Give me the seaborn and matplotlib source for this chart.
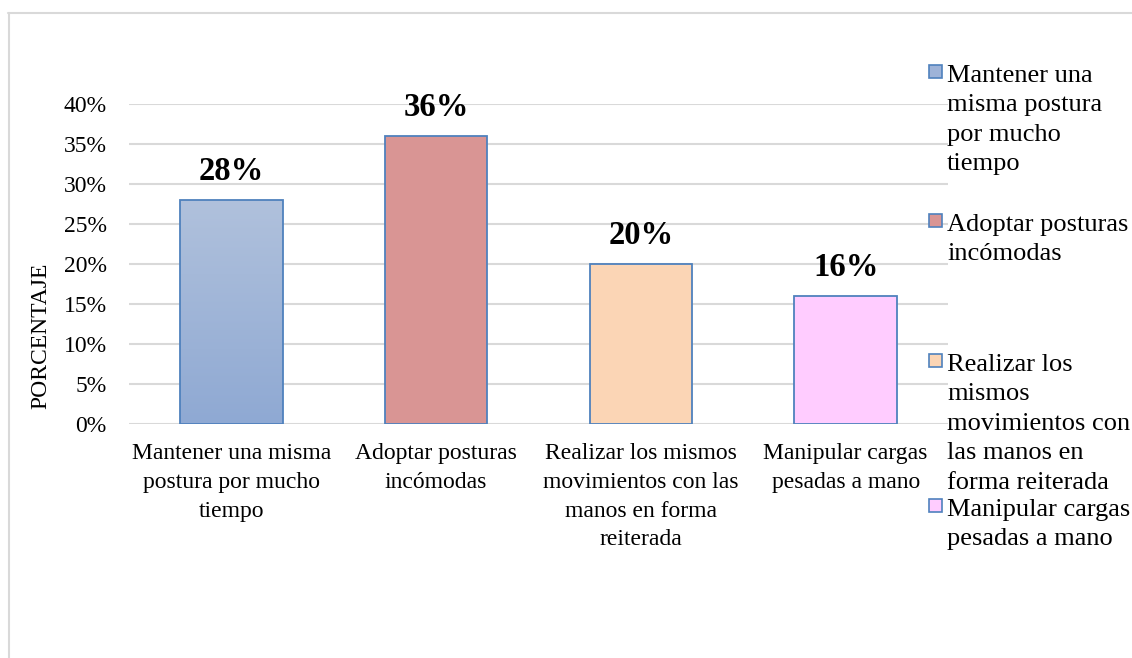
import numpy as np
import pandas as pd
import seaborn as sns
import matplotlib
matplotlib.use("Agg")
import matplotlib.pyplot as plt
from matplotlib.patches import Rectangle
from matplotlib.lines import Line2D
from matplotlib.colors import LinearSegmentedColormap

# datos
categorias = ["Mantener una misma postura por mucho tiempo",
              "Adoptar posturas incómodas",
              "Realizar los mismos movimientos con las manos en forma reiterada",
              "Manipular cargas pesadas a mano"]
valores = [0.28, 0.36, 0.20, 0.16]
etiquetas_x = ["Mantener una misma\npostura por mucho\ntiempo",
               "Adoptar posturas\nincómodas",
               "Realizar los mismos\nmovimientos con las\nmanos en forma\nreiterada",
               "Manipular cargas\npesadas a mano"]
etiquetas_leyenda = ["Mantener una\nmisma postura\npor mucho\ntiempo",
                     "Adoptar posturas\nincómodas",
                     "Realizar los\nmismos\nmovimientos con\nlas manos en\nforma reiterada",
                     "Manipular cargas\npesadas a mano"]
colores = ["#9EB3D8", "#D99594", "#FBD5B5", "#FFCCFF"]
borde = "#4F81BD"

sns.set_theme(style="white")
plt.rcParams["font.family"] = ["Liberation Serif", "DejaVu Serif"]

df = pd.DataFrame({"cat": categorias, "val": valores})

fig = plt.figure(figsize=(11.32, 6.58), dpi=100)
W, H = 1132, 658
ax = fig.add_axes([129 / W, 1 - 424 / H, (948 - 129) / W, (424 - 104) / H])

sns.barplot(data=df, x="cat", y="val", hue="cat", palette=colores, width=0.5, saturation=1,
            edgecolor=borde, linewidth=1.3, legend=False, ax=ax, zorder=3)

# degradado en la primera barra
p0 = ax.patches[0]
x0 = p0.get_x()
cmap = LinearSegmentedColormap.from_list("g", ["#8FA9D3", "#B0C1DC"])
grad = np.linspace(1, 0, 100).reshape(-1, 1)
im = ax.imshow(grad, cmap=cmap, extent=[x0, x0 + p0.get_width(), 0, p0.get_height()],
               aspect="auto", zorder=3.5, vmin=0, vmax=1)
im.set_clip_path(p0)
p0.set_zorder(4)
p0.set_facecolor("none")

ticks = np.arange(0, 0.41, 0.05)
ax.set_xlim(-0.5, 3.5)
ax.set_ylim(0, 0.40)
ax.set_yticks(ticks)
ax.set_yticklabels([f"{int(round(v * 100))}%" for v in ticks])
ax.set_xticks(range(4))
ax.set_xticklabels(etiquetas_x, linespacing=1.48)
ax.tick_params(axis="y", length=0, pad=16, labelsize=17, labelcolor="black")
ax.tick_params(axis="x", length=0, pad=14, labelsize=17, labelcolor="black")
ax.yaxis.grid(True, color="#D9D9D9", linewidth=1.5, zorder=0)
ax.set_axisbelow(True)
for s in ax.spines.values():
    s.set_visible(False)
ax.set_xlabel("")
ax.set_ylabel("PORCENTAJE", fontsize=17, color="black")
ax.yaxis.set_label_coords(-78 / 819, 0.275)

for i, p in enumerate(ax.patches):
    ax.annotate(f"{int(round(valores[i] * 100))}%", (p.get_x() + p.get_width() / 2, p.get_height()),
                xytext=(0, 9), textcoords="offset points", ha="center", va="bottom",
                fontsize=23.5, fontweight="bold", color="black")

# leyenda manual
y_ley = [73, 222, 362, 507]
for lab, col, yy in zip(etiquetas_leyenda, colores, y_ley):
    fig.add_artist(Rectangle((929 / W, 1 - (yy + 5) / H), 13 / W, 13 / H, transform=fig.transFigure,
                             facecolor=col, edgecolor=borde, linewidth=1.2))
    fig.text(947 / W, 1 - (yy - 8) / H, lab, fontsize=19, va="top", ha="left",
             linespacing=1.44, color="black")

# marco exterior
fig.add_artist(Line2D([8.5 / W, 8.5 / W], [1 - 13 / H, 0], transform=fig.transFigure,
                      color="#D9D9D9", linewidth=1.5))
fig.add_artist(Line2D([8 / W, 1], [1 - 13 / H, 1 - 13 / H], transform=fig.transFigure,
                      color="#D9D9D9", linewidth=1.5))

fig.savefig("out.png", dpi=100)
